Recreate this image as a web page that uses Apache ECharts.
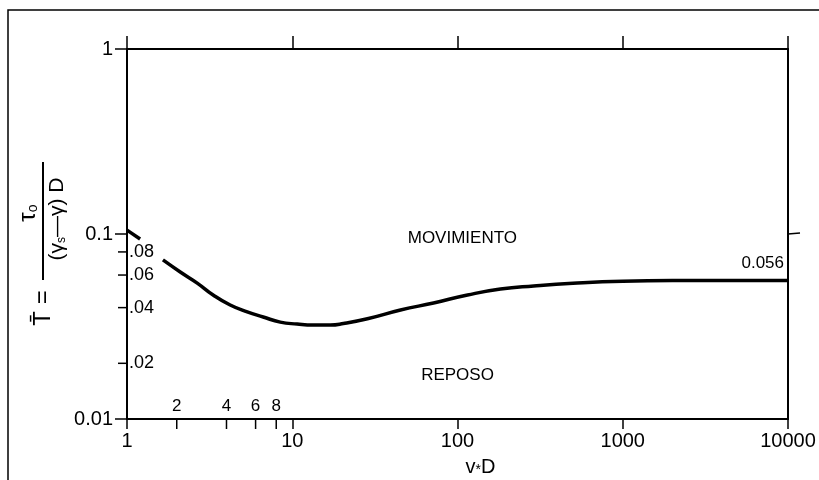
<!DOCTYPE html>
<html>
<head>
<meta charset="utf-8">
<script src="https://cdn.jsdelivr.net/npm/echarts@6/dist/echarts.min.js"></script>
<style>
html, body { margin: 0; padding: 0; background: #fff; }
#chart { width: 819px; height: 480px; }
</style>
</head>
<body>
<div id="chart"></div>
<script>
// curva de Shields
const curveX = [1.65, 2.1, 2.66, 3.32, 4.21, 5.34, 6.67, 8.46, 10.7, 13.4, 17, 20.4, 28.5, 45.2, 71.6, 115, 182, 289, 500, 1000, 2000, 10000];
const curveY = [0.0724, 0.0623, 0.0543, 0.0468, 0.0413, 0.0379, 0.0356, 0.0334, 0.0326, 0.0322, 0.0322, 0.0328, 0.0348, 0.0388, 0.0424, 0.0468, 0.0504, 0.0524, 0.0542, 0.0556, 0.056, 0.056];
// tramo corto cerca de 1
const stubX = [1, 1.2];
const stubY = [0.105, 0.094];

const xTickLabels = ['1', '10', '100', '1000', '10000'];
const yTickLabels = ['0.01', '0.1', '1'];
const xMinor = [2, 4, 6, 8];
const xMinorLabels = ['2', '4', '6', '8'];
const yMinor = [0.02, 0.04, 0.06, 0.08];
const yMinorLabels = ['.02', '.04', '.06', '.08'];

const notes = ['MOVIMIENTO', 'REPOSO', '0.056'];
const noteX = [107, 100, 9460];
const noteY = [0.095, 0.0173, 0.0697];

const FONT = "'Liberation Sans', Arial, sans-serif";
const ink = '#000';

const chart = echarts.init(document.getElementById('chart'));

const options = {
  animation: false,
  backgroundColor: '#fff',
  grid: { left: 127, right: 31, top: 49, bottom: 61, containLabel: false, outerBoundsMode: 'none' },
  xAxis: [{
    type: 'log', logBase: 10, min: 1, max: 10000, position: 'bottom',
    axisLine: { lineStyle: { color: ink, width: 2 } },
    axisTick: { length: 10, lineStyle: { color: ink, width: 1.5 } },
    splitLine: { show: false },
    axisLabel: {
      color: ink, fontFamily: FONT, fontSize: 20, margin: 12,
      formatter: v => xTickLabels[Math.round(Math.log10(v))]
    },
    name: 'v{sub|*}D', nameLocation: 'middle', nameGap: 38,
    nameTextStyle: {
      color: ink, fontFamily: FONT, fontSize: 20, padding: [0, 0, 0, 46],
      rich: { sub: { fontFamily: FONT, fontSize: 14, verticalAlign: 'bottom' } }
    }
  }, {
    type: 'log', logBase: 10, min: 1, max: 10000, position: 'top',
    axisLine: { lineStyle: { color: ink, width: 2 } },
    axisTick: { length: 13, lineStyle: { color: ink, width: 1.5 } },
    splitLine: { show: false },
    axisLabel: { show: false }
  }],
  yAxis: [{
    type: 'log', logBase: 10, min: 0.01, max: 1, position: 'left',
    axisLine: { lineStyle: { color: ink, width: 2 } },
    axisTick: { length: 12, lineStyle: { color: ink, width: 1.5 } },
    splitLine: { show: false },
    axisLabel: {
      color: ink, fontFamily: FONT, fontSize: 20, margin: 14,
      formatter: v => yTickLabels[Math.round(Math.log10(v)) + 2]
    }
  }, {
    type: 'log', logBase: 10, min: 0.01, max: 1, position: 'right',
    axisLine: { lineStyle: { color: ink, width: 2 } },
    axisTick: { show: false },
    splitLine: { show: false },
    axisLabel: { show: false }
  }],
  graphic: [
    {
      type: 'rect', silent: true,
      shape: { x: 8, y: 10, width: 900, height: 600 },
      style: { fill: 'none', stroke: ink, lineWidth: 1.5 }
    },
    {
      type: 'group', x: 43, y: 221, rotation: Math.PI / 2, silent: true,
      children: [
        { type: 'line', shape: { x1: -59, y1: 0, x2: 59, y2: 0 }, style: { stroke: ink, lineWidth: 2 } },
        {
          type: 'text', x: 8, y: -3,
          style: {
            text: 'τ{s|o}', align: 'center', verticalAlign: 'bottom', fill: ink,
            font: '24px ' + FONT,
            rich: { s: { font: '14px ' + FONT, verticalAlign: 'bottom' } }
          }
        },
        {
          type: 'text', x: 2, y: 4,
          style: {
            text: '(γ{s|s}—γ) D', align: 'center', verticalAlign: 'top', fill: ink,
            font: '21px ' + FONT,
            rich: { s: { font: '12px ' + FONT, verticalAlign: 'bottom' } }
          }
        },
        {
          type: 'text', x: -87, y: 0,
          style: { text: 'T̄ =', align: 'center', verticalAlign: 'middle', fill: ink, font: '24px ' + FONT }
        }
      ]
    }
  ],
  series: [
    {
      type: 'line', smooth: 0.5, symbol: 'none', silent: true,
      lineStyle: { color: ink, width: 3.5 },
      data: curveX.map((x, i) => [x, curveY[i]])
    },
    {
      type: 'line', symbol: 'none', silent: true,
      lineStyle: { color: ink, width: 3.5 },
      data: stubX.map((x, i) => [x, stubY[i]])
    },
    {
      // divisiones menores del eje x
      type: 'custom', clip: false, silent: true,
      data: xMinor.map((v, i) => [v, 0.01, i]),
      renderItem: (params, api) => {
        const p = api.coord([api.value(0), api.value(1)]);
        return {
          type: 'group',
          children: [
            { type: 'line', shape: { x1: p[0], y1: p[1], x2: p[0], y2: p[1] + 10 }, style: { stroke: ink, lineWidth: 1.5 } },
            {
              type: 'text',
              style: { text: xMinorLabels[api.value(2)], x: p[0], y: p[1] - 13, align: 'center', verticalAlign: 'middle', fill: ink, font: '17px ' + FONT }
            }
          ]
        };
      }
    },
    {
      // divisiones menores del eje y
      type: 'custom', clip: false, silent: true,
      data: yMinor.map((v, i) => [1, v, i]),
      renderItem: (params, api) => {
        const p = api.coord([api.value(0), api.value(1)]);
        return {
          type: 'group',
          children: [
            { type: 'line', shape: { x1: p[0] - 9, y1: p[1], x2: p[0], y2: p[1] }, style: { stroke: ink, lineWidth: 1.5 } },
            {
              type: 'text',
              style: { text: yMinorLabels[api.value(2)], x: p[0] + 2, y: p[1], align: 'left', verticalAlign: 'middle', fill: ink, font: '18px ' + FONT }
            }
          ]
        };
      }
    },
    {
      // marca en el eje derecho
      type: 'custom', clip: false, silent: true,
      data: [[10000, 0.1]],
      renderItem: (params, api) => {
        const p = api.coord([api.value(0), api.value(1)]);
        return { type: 'line', shape: { x1: p[0], y1: p[1], x2: p[0] + 12, y2: p[1] - 1 }, style: { stroke: ink, lineWidth: 1.5 } };
      }
    },
    {
      // textos de las zonas
      type: 'custom', clip: false, silent: true,
      data: notes.map((t, i) => [noteX[i], noteY[i], i]),
      renderItem: (params, api) => {
        const p = api.coord([api.value(0), api.value(1)]);
        const i = api.value(2);
        return {
          type: 'text',
          style: { text: notes[i], x: p[0], y: p[1], align: i === 2 ? 'right' : 'center', verticalAlign: 'middle', fill: ink, font: '17px ' + FONT }
        };
      }
    }
  ]
};

chart.setOption(options, true);
</script>
</body>
</html>
